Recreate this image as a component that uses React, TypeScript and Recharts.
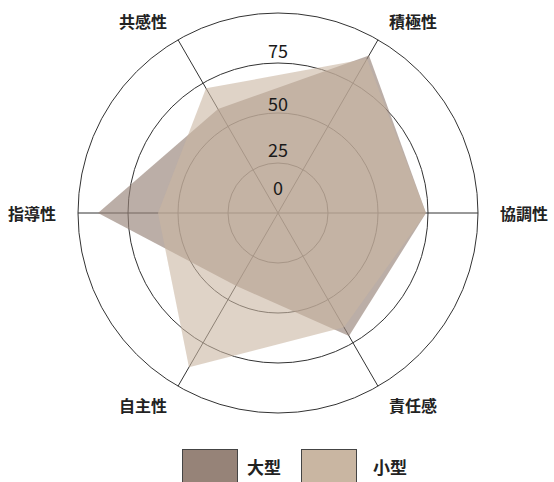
import { RadarChart, Radar, PolarGrid, PolarAngleAxis, PolarRadiusAxis, Legend } from 'recharts';

const categories = ['積極性', '協調性', '責任感', '自主性', '指導性', '共感性'];
const largeValues = [91, 74, 71, 42, 90, 60];
const smallValues = [89, 74, 66, 89, 60, 72];
const radiusTicks = [0, 25, 50, 75, 100];
const seriesNames = ['大型', '小型'];

const data = categories.map((c, i) => ({
  category: c,
  large: largeValues[i],
  small: smallValues[i],
}));

const CX = 278;
const CY = 213;
const R = 200;
const FONT = '"Noto Sans CJK JP", "Noto Sans", sans-serif';
const LARGE_COLOR = '#968378';
const SMALL_COLOR = '#c9b6a2';
// how far each radius label sits above its ring
const LABEL_LIFT = [18, 6, 2, 5, 0];

function AngleTick(props: any) {
  const { payload } = props;
  const a = (payload.coordinate * Math.PI) / 180;
  const r = R + 22;
  const x = CX + r * Math.cos(a);
  const y = CY - r * Math.sin(a);
  const c = Math.cos(a);
  const anchor = c > 0.01 ? 'start' : c < -0.01 ? 'end' : 'middle';
  return (
    <text x={x} y={y} textAnchor={anchor} dominantBaseline="central" fontSize={16} fontWeight={600} fill="#222" fontFamily={FONT}>
      {payload.value}
    </text>
  );
}

function RadiusTick(props: any) {
  const { x, y, payload, index } = props;
  if (payload.value === 100) return <g />;
  return (
    <text x={x} y={y - LABEL_LIFT[index]} textAnchor="middle" fontSize={18} fill="#1a1a1a" fontFamily={FONT}>
      {payload.value}
    </text>
  );
}

function LegendContent() {
  const colors = [LARGE_COLOR, SMALL_COLOR];
  return (
    <div style={{ display: 'flex', alignItems: 'center', marginLeft: 182, fontFamily: FONT }}>
      {seriesNames.map((name, i) => (
        <div key={name} style={{ display: 'flex', alignItems: 'center', marginRight: i === 0 ? 20 : 0 }}>
          <div style={{ width: 54, height: 33, background: colors[i], border: '1px solid #444' }} />
          <span style={{ marginLeft: i === 0 ? 9 : 16, fontSize: 17, fontWeight: 600, color: '#222' }}>{name}</span>
        </div>
      ))}
    </div>
  );
}

export default function App() {
  return (
    <div style={{ position: 'absolute', left: 0, top: 0, width: 554, height: 482, overflow: 'hidden', background: '#fff' }}>
      <RadarChart
        width={554}
        height={482}
        data={data}
        cx={CX}
        cy={CY}
        outerRadius={R}
        startAngle={60}
        endAngle={-300}
        margin={{ top: 0, right: 0, bottom: 0, left: 0 }}
      >
        <PolarGrid gridType="circle" stroke="#333" strokeWidth={1} />
        <PolarAngleAxis dataKey="category" tick={AngleTick} tickLine={false} axisLine={false} />
        <PolarRadiusAxis
          angle={90}
          domain={[0, 100]}
          ticks={radiusTicks}
          tick={RadiusTick}
          axisLine={false}
          tickLine={false}
        />
        <Radar
          name={seriesNames[0]}
          dataKey="large"
          stroke="none"
          fill={LARGE_COLOR}
          fillOpacity={0.65}
          isAnimationActive={false}
        />
        <Radar
          name={seriesNames[1]}
          dataKey="small"
          stroke="none"
          fill={SMALL_COLOR}
          fillOpacity={0.6}
          isAnimationActive={false}
        />
        <Legend
          content={LegendContent}
          wrapperStyle={{ position: 'absolute', top: 449, left: 0, width: 554, height: 33 }}
        />
      </RadarChart>
    </div>
  );
}
